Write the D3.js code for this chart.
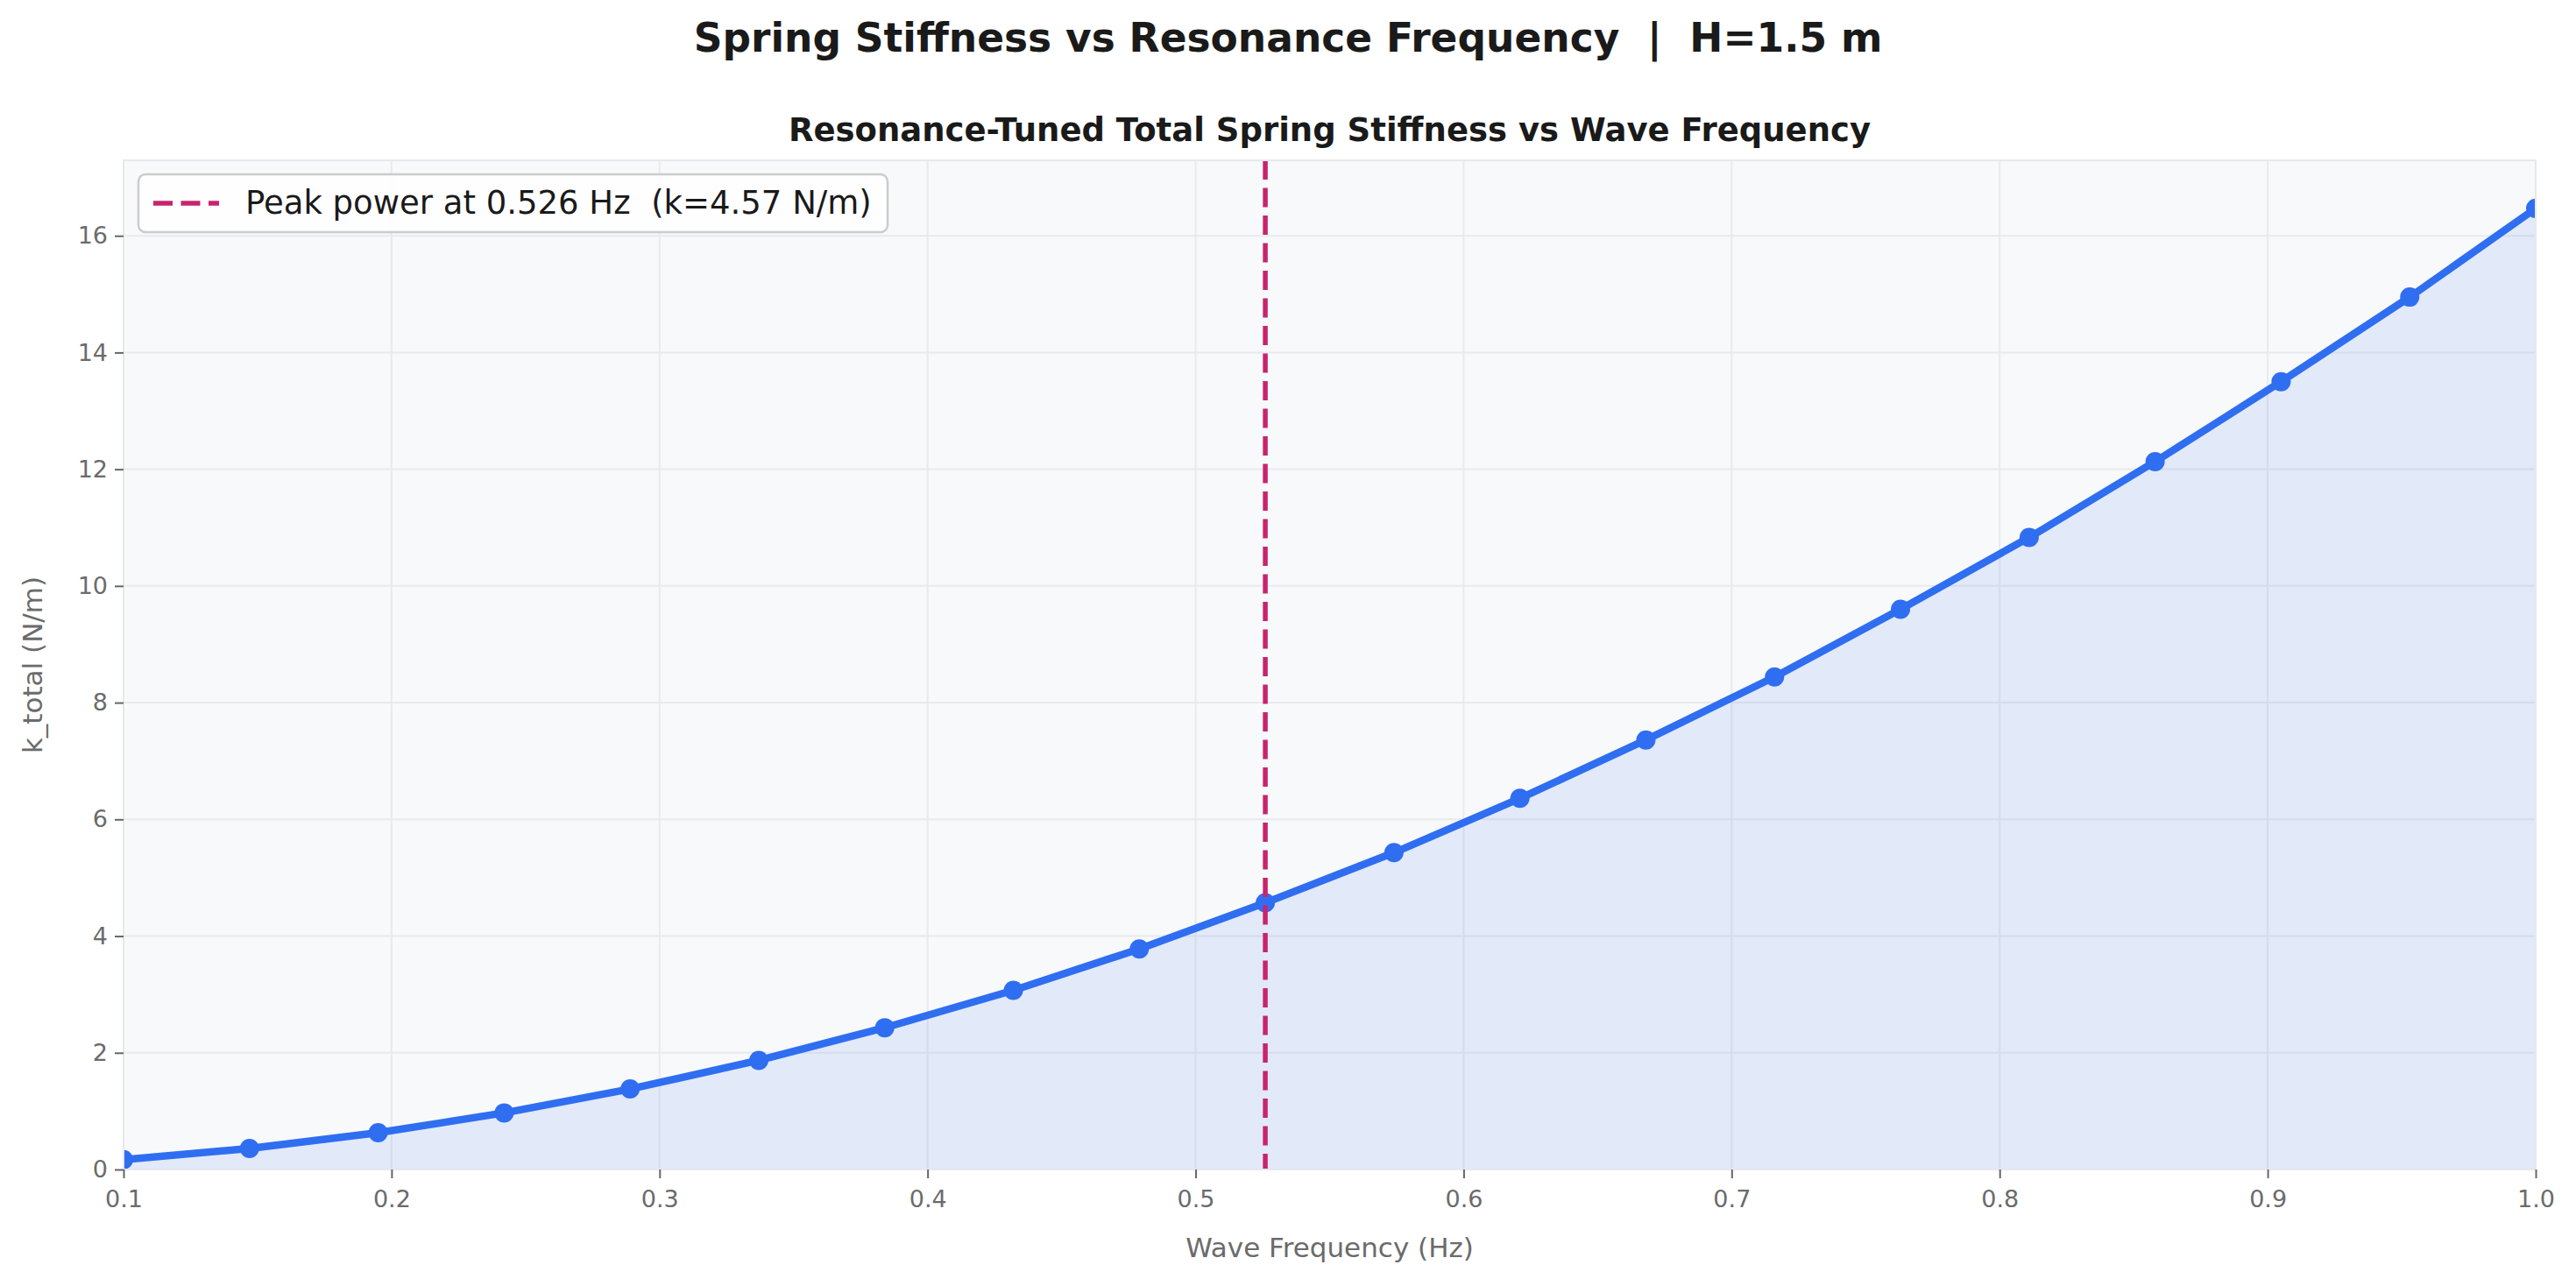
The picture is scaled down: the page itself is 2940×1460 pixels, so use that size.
<!DOCTYPE html>
<html lang="en">
<head>
    <meta charset="UTF-8">
    <title>Spring Stiffness vs Resonance Frequency</title>
    <script src="https://d3js.org/d3.v7.min.js"></script>
    <style>
        body { margin: 0; background: #fff; font-family: "DejaVu Sans", sans-serif; }
        .grid line { stroke: #e8eaee; stroke-width: 2px; }
        .axis path { display: none; }
        .axis line { stroke: #666; stroke-width: 2px; }
        .axis text { fill: #6b6b6b; font-size: 27px; font-family: "DejaVu Sans", sans-serif; }
    </style>
</head>
<body>
    <svg width="2940" height="1460"></svg>
    <script>
        // wave frequency (Hz) and tuned total stiffness (N/m)
        const freq = [0.100, 0.147, 0.195, 0.242, 0.289, 0.337, 0.384, 0.432, 0.479, 0.526,
                      0.574, 0.621, 0.668, 0.716, 0.763, 0.811, 0.858, 0.905, 0.953, 1.000];
        const kTotal = [0.17, 0.36, 0.63, 0.97, 1.38, 1.87, 2.43, 3.07, 3.78, 4.57,
                        5.43, 6.36, 7.36, 8.44, 9.60, 10.83, 12.13, 13.50, 14.95, 16.47];
        const peakFreq = 0.526;
        const peakK = 4.57;
        const xTicks = [0.1, 0.2, 0.3, 0.4, 0.5, 0.6, 0.7, 0.8, 0.9, 1.0];
        const yTicks = [0, 2, 4, 6, 8, 10, 12, 14, 16];

        const data = freq.map((f, i) => ({ f: f, k: kTotal[i] }));

        const margin = { left: 141, right: 46, top: 183, bottom: 125 };
        const width = 2940, height = 1460;
        const innerW = width - margin.left - margin.right;
        const innerH = height - margin.top - margin.bottom;

        const svg = d3.select("svg");

        const x = d3.scaleLinear().domain([0.1, 1.0]).range([0, innerW]);
        const y = d3.scaleLinear().domain([0, d3.max(kTotal) * 1.05]).range([innerH, 0]);

        // titles
        svg.append("text")
            .attr("x", width / 2).attr("y", 59)
            .attr("text-anchor", "middle")
            .style("font-size", "45.5px").style("font-weight", "bold").style("fill", "#1a1a1a")
            .style("white-space", "pre")
            .text("Spring Stiffness vs Resonance Frequency  |  H=1.5 m");

        svg.append("text")
            .attr("x", margin.left + innerW / 2).attr("y", 161)
            .attr("text-anchor", "middle")
            .style("font-size", "37px").style("font-weight", "bold").style("fill", "#1a1a1a")
            .text("Resonance-Tuned Total Spring Stiffness vs Wave Frequency");

        const g = svg.append("g").attr("transform", `translate(${margin.left},${margin.top})`);

        g.append("defs").append("clipPath").attr("id", "clip")
            .append("rect").attr("width", innerW).attr("height", innerH);

        g.append("rect").attr("width", innerW).attr("height", innerH).attr("fill", "#f8f9fb");

        // grid
        g.append("g").attr("class", "grid")
            .selectAll("line.v").data(xTicks).join("line")
            .attr("x1", d => x(d)).attr("x2", d => x(d))
            .attr("y1", 0).attr("y2", innerH);
        g.append("g").attr("class", "grid")
            .selectAll("line.h").data(yTicks).join("line")
            .attr("x1", 0).attr("x2", innerW)
            .attr("y1", d => y(d)).attr("y2", d => y(d));

        const plot = g.append("g").attr("clip-path", "url(#clip)");

        const area = d3.area().x(d => x(d.f)).y0(y(0)).y1(d => y(d.k));
        plot.append("path").datum(data)
            .attr("d", area)
            .attr("fill", "#2563eb").attr("fill-opacity", 0.1);

        const line = d3.line().x(d => x(d.f)).y(d => y(d.k));
        plot.append("path").datum(data)
            .attr("d", line)
            .attr("fill", "none")
            .attr("stroke", "#2f6ef0").attr("stroke-width", 8.5)
            .attr("stroke-linejoin", "round");

        plot.selectAll("circle").data(data).join("circle")
            .attr("cx", d => x(d.f)).attr("cy", d => y(d.k))
            .attr("r", 11).attr("fill", "#2f6ef0");

        plot.append("line")
            .attr("x1", x(peakFreq)).attr("x2", x(peakFreq))
            .attr("y1", 0).attr("y2", innerH)
            .attr("stroke", "#c8246e").attr("stroke-width", 5.5)
            .attr("stroke-dasharray", "22,9.5");

        // frame
        g.append("rect").attr("width", innerW).attr("height", innerH)
            .attr("fill", "none").attr("stroke", "#e6e8ec").attr("stroke-width", 2);

        // axes
        g.append("g").attr("class", "axis")
            .attr("transform", `translate(0,${innerH})`)
            .call(d3.axisBottom(x).tickValues(xTicks).tickFormat(d3.format(".1f")).tickSize(10).tickPadding(14));

        g.append("g").attr("class", "axis")
            .call(d3.axisLeft(y).tickValues(yTicks).tickFormat(d3.format("d")).tickSize(10).tickPadding(8));

        svg.append("text")
            .attr("x", margin.left + innerW / 2).attr("y", 1435)
            .attr("text-anchor", "middle")
            .style("font-size", "31px").style("fill", "#6b6b6b")
            .text("Wave Frequency (Hz)");

        svg.append("text")
            .attr("transform", `translate(48,${margin.top + innerH / 2}) rotate(-90)`)
            .attr("text-anchor", "middle")
            .style("font-size", "31px").style("fill", "#6b6b6b")
            .text("k_total (N/m)");

        // legend
        const legend = g.append("g").attr("transform", "translate(17,16)");
        legend.append("rect")
            .attr("width", 855).attr("height", 66).attr("rx", 8)
            .attr("fill", "#ffffff").attr("fill-opacity", 0.85)
            .attr("stroke", "#cccccc").attr("stroke-width", 2.5);
        legend.append("line")
            .attr("x1", 17).attr("x2", 92).attr("y1", 33).attr("y2", 33)
            .attr("stroke", "#c8246e").attr("stroke-width", 5.5)
            .attr("stroke-dasharray", "22,9.5");
        legend.append("text")
            .attr("x", 122).attr("y", 45)
            .style("font-size", "37px").style("fill", "#1a1a1a")
            .style("white-space", "pre")
            .text(`Peak power at ${peakFreq.toFixed(3)} Hz  (k=${peakK.toFixed(2)} N/m)`);
    </script>
</body>
</html>
